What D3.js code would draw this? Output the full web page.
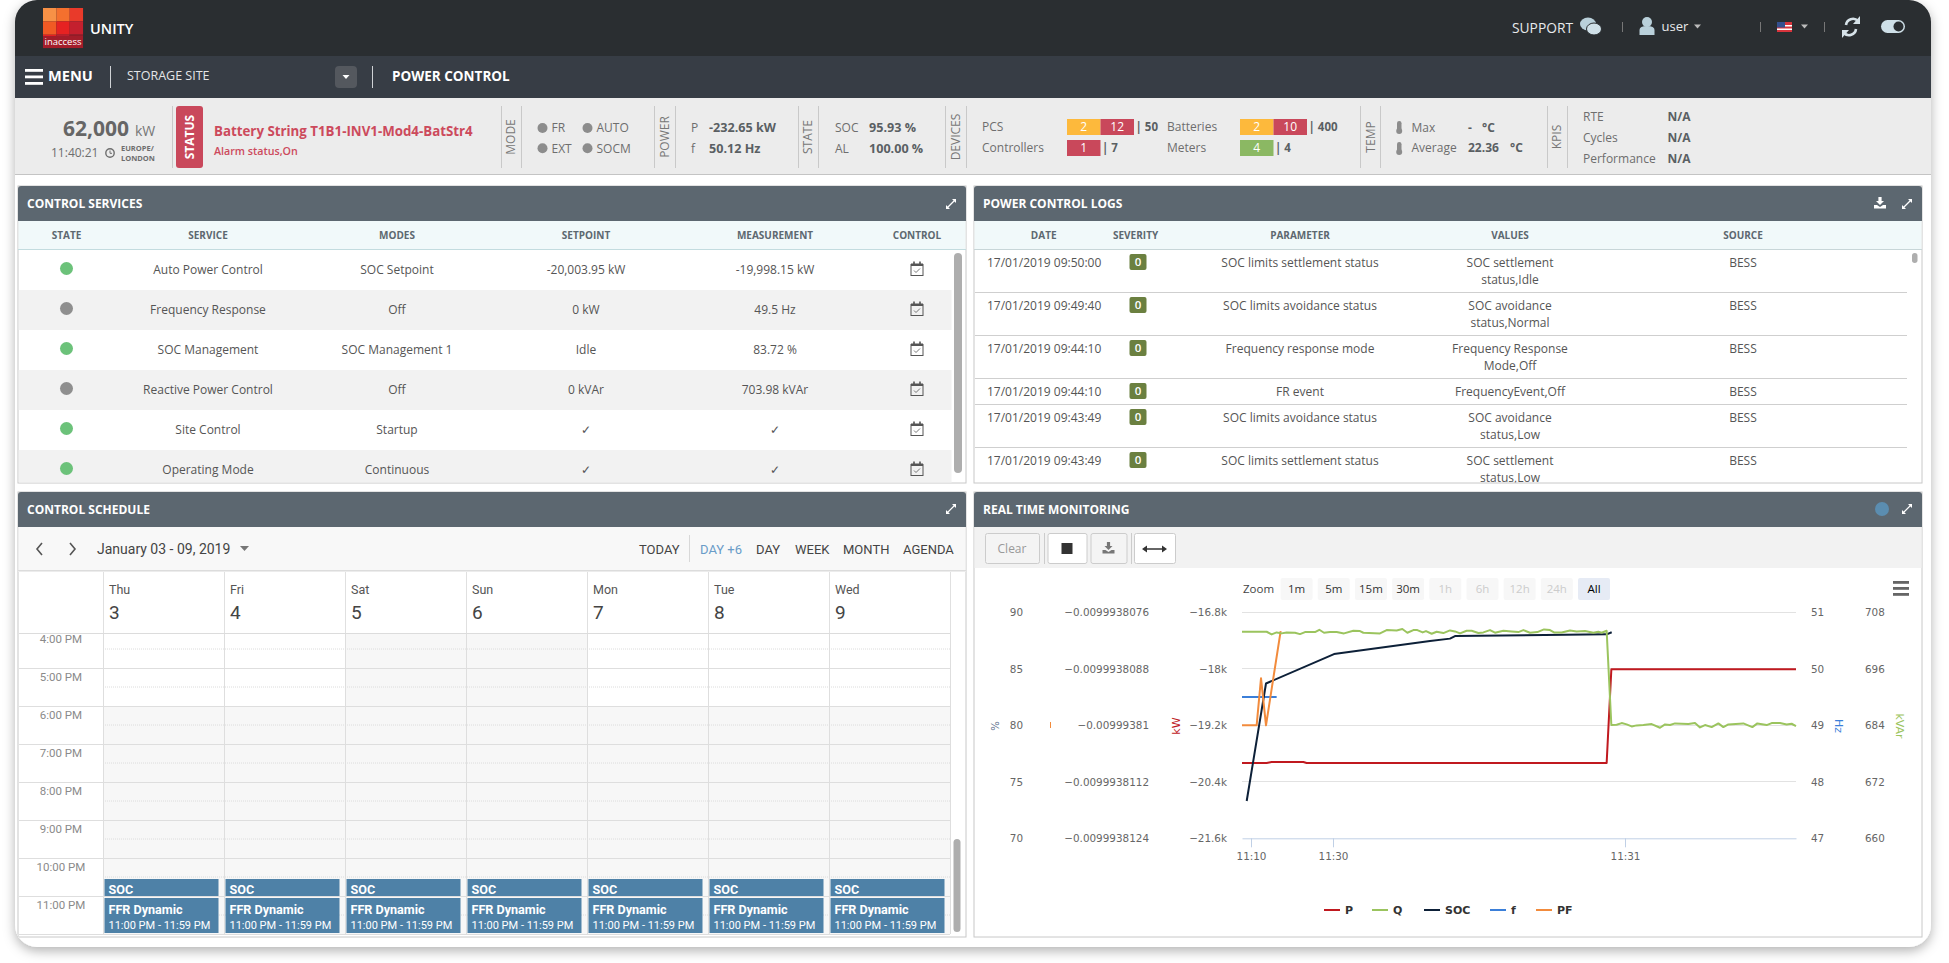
<!DOCTYPE html>
<html>
<head>
<meta charset="utf-8">
<title>Unity - Power Control</title>
<script src="https://cdn.jsdelivr.net/npm/d3@7"></script>
<style>
    html, body { margin: 0; padding: 0; background: #fff; overflow: hidden; }
    svg { display: block; font-family: "Open Sans", sans-serif; }
    .cal text { font-family: Roboto, sans-serif; }
    .hc text { font-family: "DejaVu Sans", sans-serif; }
    .hc .axis text { font-size: 10.4px; fill: #666; font-family: "DejaVu Sans", sans-serif; }
</style>
</head>
<body>
<svg id="page" width="1949" height="963"></svg>
<script>
// ---- status strip ----
const modeLabels = ["FR", "AUTO", "EXT", "SOCM"];
const powerRows = [["P", "-232.65 kW"], ["f", "50.12 Hz"]];
const stateRows = [["SOC", "95.93 %"], ["AL", "100.00 %"]];
const deviceCounts = [
    {name: "PCS", parts: [[2, "warn"], [12, "bad"]], total: "| 50"},
    {name: "Controllers", parts: [[1, "bad"]], total: "| 7"},
    {name: "Batteries", parts: [[2, "warn"], [10, "bad"]], total: "| 400"},
    {name: "Meters", parts: [[4, "ok"]], total: "| 4"}
];
const kpiRows = [["RTE", "N/A"], ["Cycles", "N/A"], ["Performance", "N/A"]];

// ---- control services table ----
const serviceColumns = ["STATE", "SERVICE", "MODES", "SETPOINT", "MEASUREMENT", "CONTROL"];
const serviceStates = ["on", "off", "on", "off", "on", "on"];
const serviceNames = ["Auto Power Control", "Frequency Response", "SOC Management", "Reactive Power Control", "Site Control", "Operating Mode"];
const serviceModes = ["SOC Setpoint", "Off", "SOC Management 1", "Off", "Startup", "Continuous"];
const serviceSetpoints = ["-20,003.95 kW", "0 kW", "Idle", "0 kVAr", "✓", "✓"];
const serviceMeasures = ["-19,998.15 kW", "49.5 Hz", "83.72 %", "703.98 kVAr", "✓", "✓"];

// ---- logs table ----
const logColumns = ["DATE", "SEVERITY", "PARAMETER", "VALUES", "SOURCE"];
const logDates = ["17/01/2019 09:50:00", "17/01/2019 09:49:40", "17/01/2019 09:44:10", "17/01/2019 09:44:10", "17/01/2019 09:43:49", "17/01/2019 09:43:49"];
const logParams = ["SOC limits settlement status", "SOC limits avoidance status", "Frequency response mode", "FR event", "SOC limits avoidance status", "SOC limits settlement status"];
const logValues = [["SOC settlement", "status,Idle"], ["SOC avoidance", "status,Normal"], ["Frequency Response", "Mode,Off"], ["FrequencyEvent,Off"], ["SOC avoidance", "status,Low"], ["SOC settlement", "status,Low"]];

// ---- calendar ----
const calDays = ["Thu", "Fri", "Sat", "Sun", "Mon", "Tue", "Wed"];
const calDates = [3, 4, 5, 6, 7, 8, 9];
const calHours = [16, 17, 18, 19, 20, 21, 22, 23];
const calHourLabels = ["4:00 PM", "5:00 PM", "6:00 PM", "7:00 PM", "8:00 PM", "9:00 PM", "10:00 PM", "11:00 PM"];
const calViews = ["TODAY", "DAY +6", "DAY", "WEEK", "MONTH", "AGENDA"];

// ---- monitoring chart. x is the sample number, the stock axis is ordinal ----
const xTickSamples = [1.8, 18.2, 76.6];
const xTickLabels = ["11:10", "11:30", "11:31"];
const socTicks = [70, 75, 80, 85, 90];
const pfTicks = [-0.0099938124, -0.0099938112, -0.00999381, -0.0099938088, -0.0099938076];
const kwTicks = [-21600, -20400, -19200, -18000, -16800];
const hzTicks = [47, 48, 49, 50, 51];
const kvarTicks = [660, 672, 684, 696, 708];

const pSamples = [0, 4.93, 5.93, 12.27, 12.93, 72.93, 73.87, 110.8];
const pValues = [-20000, -20000, -19980, -19980, -20000, -20000, -18010, -18010];
const socSamples = [0.94, 4.8, 18.4, 37.6, 41.6, 42.6, 72.94, 73.94];
const socValues = [73.3, 83.7, 86.3, 87.46, 87.67, 87.9, 88.05, 88.23];
const fSamples = [0, 3, 6.93];
const fValues = [49.5, 49.5, 49.5];
const pfSamples = [0, 2.93, 3.8, 4.8, 7.73];
const pfValues = [-0.00999381, -0.00999381, -0.009993809, -0.00999381, -0.009993808];
const qSamples = [0, 4.93, 5.93, 6.93, 7.93, 8.93, 10.6, 11.6, 12.6, 14.6, 15.47, 16.4, 17.6, 18.93, 20.4, 22.27, 23.6, 24.27, 27.6, 28.93, 30.93, 32.07, 33.07, 34.27, 35.07, 36.13, 36.8, 37.93, 38.93, 40.27, 41.6, 42.6, 43.6, 44.93, 45.93, 47.27, 48.27, 49.6, 50.6, 52.27, 53.93, 55.27, 56.27, 57.6, 59.07, 60.4, 61.6, 62.4, 63.93, 65.6, 66.93, 68.6, 70.27, 71.27, 71.93, 72.93, 73.87, 74.93, 75.93, 76.93, 77.93, 78.93, 80.27, 81.93, 83.6, 84.6, 85.6, 86.6, 89.27, 90.6, 91.6, 92.6, 93.93, 95.27, 96.27, 97.27, 100.27, 102.07, 103.07, 104.93, 105.93, 107.6, 108.93, 109.93, 110.8];
const qValues = [703.87, 703.87, 703.3, 703.73, 703.52, 703.73, 703.66, 703.37, 703.8, 703.8, 704.29, 703.66, 703.8, 703.8, 703.52, 704.08, 704.01, 703.66, 703.52, 704.22, 704.15, 704.44, 703.66, 704.22, 704.22, 703.73, 704.01, 703.45, 703.87, 703.59, 704.15, 703.94, 703.52, 704.08, 704.08, 703.59, 703.73, 704.22, 703.66, 704.08, 703.94, 703.8, 704.22, 703.66, 703.8, 704.37, 704.22, 703.73, 703.73, 704.15, 703.94, 704.01, 703.66, 703.87, 703.66, 704.08, 684.05, 684.12, 684.47, 684.19, 683.76, 683.98, 684.05, 684.26, 683.48, 684.19, 684.05, 684.4, 684.26, 684.47, 683.55, 684.05, 683.62, 684.4, 683.62, 684.19, 684.4, 683.62, 684.4, 684.05, 684.47, 684.47, 684.19, 684.33, 683.84];
const legendNames = ["P", "Q", "SOC", "f", "PF"];
const rangeButtons = ["1m", "5m", "15m", "30m", "1h", "6h", "12h", "24h", "All"];
const rangeDisabled = ["1h", "6h", "12h", "24h"];

const svg = d3.select("#page");

// little helper so that the layout below stays readable
function label(parent, x, y, s, size, fill, weight, anchor) {
    return parent.append("text")
        .attr("x", x).attr("y", y).attr("dy", ".35em")
        .attr("font-size", size).attr("fill", fill)
        .attr("font-weight", weight || 400)
        .attr("text-anchor", anchor || "start")
        .text(s);
}

function vlabel(parent, x, y, s, size, fill, weight, rot) {
    return parent.append("text")
        .attr("transform", "translate(" + x + "," + y + ") rotate(" + (rot || -90) + ")")
        .attr("dy", ".35em").attr("text-anchor", "middle")
        .attr("font-size", size).attr("fill", fill)
        .attr("font-weight", weight || 400)
        .text(s);
}

function rect(parent, x, y, w, h, fill, rx) {
    return parent.append("rect")
        .attr("x", x).attr("y", y).attr("width", w).attr("height", h)
        .attr("fill", fill).attr("rx", rx || 0);
}

function hline(parent, x1, x2, y, color) {
    return parent.append("line").attr("x1", x1).attr("x2", x2).attr("y1", y).attr("y2", y)
        .attr("stroke", color).attr("stroke-width", 1).attr("shape-rendering", "crispEdges");
}

function vline(parent, x, y1, y2, color) {
    return parent.append("line").attr("x1", x).attr("x2", x).attr("y1", y1).attr("y2", y2)
        .attr("stroke", color).attr("stroke-width", 1).attr("shape-rendering", "crispEdges");
}

// ---- window with its shadow ----
const defs = svg.append("defs");
const shadow = defs.append("filter").attr("id", "shadow")
    .attr("x", "-3%").attr("y", "-3%").attr("width", "106%").attr("height", "106%");
shadow.append("feDropShadow").attr("dx", 0).attr("dy", 4).attr("stdDeviation", 6)
    .attr("flood-color", "#000").attr("flood-opacity", 0.3);
defs.append("clipPath").attr("id", "winclip").append("rect")
    .attr("x", 15).attr("y", 0).attr("width", 1916).attr("height", 947).attr("rx", 22);

svg.append("rect").attr("x", 15).attr("y", 0).attr("width", 1916).attr("height", 947)
    .attr("rx", 22).attr("fill", "#fff").attr("filter", "url(#shadow)");
const win = svg.append("g").attr("clip-path", "url(#winclip)");

// ---- top bars ----
rect(win, 15, 0, 1916, 56, "#2a2e31");
rect(win, 15, 56, 1916, 42, "#373d45");

// logo, 3x3 squares going from orange to dark red
const logoColors = ["#f79146", "#f4702e", "#e93a2a", "#f05a24", "#e62222", "#c4202e", "#e62022", "#b81f2f", "#921b27"];
win.selectAll("rect.logo").data(logoColors).enter().append("rect")
    .attr("class", "logo")
    .attr("x", (d, i) => 43 + (i % 3) * 13.33)
    .attr("y", (d, i) => 8 + Math.floor(i / 3) * 13.33)
    .attr("width", 13.4).attr("height", 13.4)
    .attr("fill", d => d);
rect(win, 43, 36, 40, 12, "#a31d2a");
label(win, 63, 42, "inaccess", 9.5, "#fff", 400, "middle");
label(win, 90, 29, "UNITY", 14.5, "#fff", 600);

label(win, 1512, 28, "SUPPORT", 13.8, "#e8eaec");
// speech bubbles
win.append("ellipse").attr("cx", 1588).attr("cy", 24).attr("rx", 8).attr("ry", 6.5).attr("fill", "#b9d0da");
win.append("ellipse").attr("cx", 1594).attr("cy", 29).attr("rx", 7.5).attr("ry", 6).attr("fill", "#cfe0e8").attr("stroke", "#2a2e31");
vline(win, 1622, 22, 32, "#777");
// user
win.append("circle").attr("cx", 1647).attr("cy", 22).attr("r", 5).attr("fill", "#b9d0da");
win.append("path").attr("d", "M1639.5 35 v-5 q0 -4 7.5 -4 q7.5 0 7.5 4 v5 z").attr("fill", "#b9d0da");
label(win, 1661.5, 26, "user", 13, "#e8eaec");
win.append("path").attr("d", "M1694 24.5 h7 l-3.5 4 z").attr("fill", "#bbb");
vline(win, 1760, 22, 32, "#777");
// flag
rect(win, 1777, 22, 15, 10, "#d8343c");
rect(win, 1777, 25, 15, 1.5, "#fff");
rect(win, 1777, 28.5, 15, 1.5, "#fff");
rect(win, 1777, 22, 8, 5.5, "#34508f");
win.append("path").attr("d", "M1801 24.5 h7 l-3.5 4 z").attr("fill", "#bbb");
vline(win, 1824, 22, 32, "#777");
// refresh
win.append("path").attr("d", "M1846 25 a7 7 0 0 1 12 -4 M1856 29 a7 7 0 0 1 -12 4")
    .attr("fill", "none").attr("stroke", "#d6e2e8").attr("stroke-width", 2.6);
win.append("path").attr("d", "M1860 16 v8 h-7 z M1842 38 v-8 h7 z").attr("fill", "#d6e2e8");
// dark mode toggle
rect(win, 1881, 20, 24, 13, "#cfe0e8", 6.5);
win.append("circle").attr("cx", 1898.5).attr("cy", 26.5).attr("r", 5).attr("fill", "#2a2e31");

// nav
[69, 75.5, 82].forEach(y => rect(win, 25, y, 18, 2.8, "#fff"));
label(win, 48, 76, "MENU", 14.6, "#fff", 700);
vline(win, 110, 66, 88, "#cfd2d5");
label(win, 127, 76, "STORAGE SITE", 12.5, "#e4e6e8");
rect(win, 335, 66, 22, 22, "#54585e", 4);
win.append("path").attr("d", "M342.5 75 h7 l-3.5 4 z").attr("fill", "#fff");
vline(win, 372, 66, 88, "#cfd2d5");
label(win, 392, 76, "POWER CONTROL", 13.5, "#fff", 700);

// ---- status strip ----
rect(win, 15, 98, 1916, 76, "#ececec");
hline(win, 15, 1931, 174, "#c4c4c4");
const strip = win.append("g");
const stripGrey = "#6e6e6e";
const stripDark = "#5a5f63";
label(strip, 129, 129, "62,000", 21, "#666", 700, "end");
label(strip, 135, 131, "kW", 14, "#777");
label(strip, 51, 153, "11:40:21", 12, stripGrey);
strip.append("circle").attr("cx", 110).attr("cy", 153).attr("r", 4.2).attr("fill", "none").attr("stroke", stripGrey).attr("stroke-width", 1.4);
strip.append("path").attr("d", "M110 150.5 v2.8 h2").attr("fill", "none").attr("stroke", stripGrey);
label(strip, 121, 148, "EUROPE/", 7.5, stripGrey, 700);
label(strip, 121, 158, "LONDON", 7.5, stripGrey, 700);

[172, 501, 521.5, 654, 675, 798, 818, 945, 966, 1360, 1380, 1547, 1567].forEach(x => vline(strip, x, 106, 168, "#c9c9c9"));
rect(strip, 176, 106, 27, 62, "#c9485b", 3);
vlabel(strip, 190, 137, "STATUS", 12, "#fff", 700);
label(strip, 214, 131, "Battery String T1B1-INV1-Mod4-BatStr4", 13.3, "#cc4a5c", 700);
label(strip, 214, 151, "Alarm status,On", 10.7, "#cc4a5c", 600);

vlabel(strip, 511, 137, "MODE", 12, "#777");
vlabel(strip, 665, 137, "POWER", 12, "#777");
vlabel(strip, 808, 137, "STATE", 12, "#777");
vlabel(strip, 956, 137, "DEVICES", 12, "#777");
vlabel(strip, 1370.5, 137, "TEMP", 12, "#777");
vlabel(strip, 1557, 137, "KPIS", 12, "#777");

const modeX = d3.scaleOrdinal().domain([0, 1]).range([542.5, 587.5]);
modeLabels.forEach((m, i) => {
    const col = i % 2, y = i < 2 ? 128 : 148.3;
    strip.append("circle").attr("cx", modeX(col)).attr("cy", y).attr("r", 5).attr("fill", "#8c8c8c");
    label(strip, modeX(col) + 9, y, m, 12, stripGrey);
});
powerRows.forEach((r, i) => {
    label(strip, 691, 128 + i * 20.3, r[0], 12, stripGrey);
    label(strip, 709, 128 + i * 20.3, r[1], 12.6, stripDark, 700);
});
stateRows.forEach((r, i) => {
    label(strip, 835, 128 + i * 20.3, r[0], 12, stripGrey);
    label(strip, 869, 128 + i * 20.3, r[1], 12.6, stripDark, 700);
});
const badgeColor = {warn: "#fdb93c", bad: "#c9485b", ok: "#8bb863"};
deviceCounts.forEach((d, i) => {
    const col = i < 2 ? 0 : 1, row = i % 2;
    const y = 127 + row * 21;
    label(strip, col ? 1167 : 982, y, d.name, 12, stripGrey);
    let bx = col ? 1240 : 1067;
    d.parts.forEach(p => {
        rect(strip, bx, y - 8, 33.5, 16, badgeColor[p[1]]);
        label(strip, bx + 16.7, y, p[0], 12, "#fff", 400, "middle");
        bx += 33.5;
    });
    label(strip, bx + 1.5, y, d.total, 11.5, stripDark, 700);
});
// thermometers
[127, 148].forEach(y => {
    rect(strip, 1397, y - 6, 4.5, 10, "#8c8c8c", 2.2);
    strip.append("circle").attr("cx", 1399.2).attr("cy", y + 4).attr("r", 3).attr("fill", "#8c8c8c");
});
label(strip, 1411.5, 127.5, "Max", 12, stripGrey);
label(strip, 1468, 127.5, "-", 12, stripDark, 700);
label(strip, 1482, 127.5, "°C", 12, stripDark, 700);
label(strip, 1411.5, 148, "Average", 12, stripGrey);
label(strip, 1468, 148, "22.36", 12, stripDark, 700);
label(strip, 1510, 148, "°C", 12, stripDark, 700);
kpiRows.forEach((r, i) => {
    label(strip, 1583, 117 + i * 20.7, r[0], 12, stripGrey);
    label(strip, 1667.5, 117 + i * 20.7, r[1], 12, stripDark, 700);
});

// ---- panels ----
function panel(x, y, w, h, title) {
    const g = win.append("g");
    rect(g, x, y, w, h, "#fff").attr("stroke", "#c8c8c8");
    g.append("path")
        .attr("d", "M" + x + " " + (y + 35) + " v-32 q0 -3 3 -3 h" + (w - 6) + " q3 0 3 3 v32 z")
        .attr("fill", "#5c6770");
    label(g, x + 9, y + 18, title, 12, "#fff", 700);
    return g;
}

function expandIcon(g, cx, cy) {
    g.append("path")
        .attr("d", "M" + (cx - 4) + " " + (cy + 4) + " L" + (cx + 4) + " " + (cy - 4))
        .attr("stroke", "#fff").attr("stroke-width", 1.2);
    g.append("path").attr("fill", "#fff")
        .attr("d", "M" + (cx + 5) + " " + (cy - 5) + " h-4 l4 4 z M" + (cx - 5) + " " + (cy + 5) + " h4 l-4 -4 z");
}

function downloadIcon(g, cx, cy, color) {
    g.append("path").attr("fill", color)
        .attr("d", "M" + (cx - 1.6) + " " + (cy - 6) + " h3.2 v4 h2.4 l-4 4 l-4 -4 h2.4 z M" + (cx - 6) + " " + (cy + 2) + " h3 l3 2 l3 -2 h3 v3.5 h-12 z");
}

// control services
const p1 = panel(18, 186, 948, 297, "CONTROL SERVICES");
expandIcon(p1, 951, 204);
rect(p1, 18.5, 221, 947, 28, "#f1f9fa");
hline(p1, 18, 966, 249.5, "#c3dcdf");
const svcX = d3.scaleOrdinal().domain(serviceColumns).range([66.5, 208, 397, 586, 775, 917]);
const svcRow = d3.scaleBand().domain(d3.range(serviceNames.length)).range([250, 490]);
serviceColumns.forEach(c => label(p1, svcX(c), 235, c, 10, "#5d6870", 700, "middle"));
defs.append("clipPath").attr("id", "p1clip").append("rect").attr("x", 18.5).attr("y", 250).attr("width", 947).attr("height", 232.5);
const p1rows = p1.append("g").attr("clip-path", "url(#p1clip)");
serviceNames.forEach((name, i) => {
    const y = svcRow(i), cy = y + svcRow.bandwidth() / 2 - 0.5;
    if (i % 2) rect(p1rows, 18.5, y, 933, svcRow.bandwidth(), "#f2f2f2");
    p1rows.append("circle").attr("cx", svcX("STATE")).attr("cy", cy - 1).attr("r", 6.5)
        .attr("fill", serviceStates[i] === "on" ? "#6cc27a" : "#8f8f8f");
    label(p1rows, svcX("SERVICE"), cy, name, 12, "#555", 400, "middle");
    label(p1rows, svcX("MODES"), cy, serviceModes[i], 12, "#555", 400, "middle");
    label(p1rows, svcX("SETPOINT"), cy, serviceSetpoints[i], 12, "#555", 400, "middle");
    label(p1rows, svcX("MEASUREMENT"), cy, serviceMeasures[i], 12, "#555", 400, "middle");
    // calendar icon
    const ix = svcX("CONTROL");
    p1rows.append("rect").attr("x", ix - 6).attr("y", cy - 5).attr("width", 12).attr("height", 11)
        .attr("fill", "none").attr("stroke", "#555").attr("stroke-width", 1);
    rect(p1rows, ix - 6, cy - 6, 12, 2.5, "#555");
    [-3, 3].forEach(dx => rect(p1rows, ix + dx - 0.8, cy - 8, 1.6, 3, "#555"));
    p1rows.append("path").attr("d", "M" + (ix - 3) + " " + (cy + 1) + " l2 2 l4 -4")
        .attr("fill", "none").attr("stroke", "#555").attr("stroke-width", 0.8);
});
rect(p1, 954, 253, 8, 220, "#aeaeae", 4);

// logs
const p2 = panel(974, 186, 948, 297, "POWER CONTROL LOGS");
downloadIcon(p2, 1880, 203, "#fff");
expandIcon(p2, 1907, 204);
rect(p2, 974.5, 221, 947, 28, "#f1f9fa");
hline(p2, 974, 1922, 249.5, "#c8d6d8");
const logX = d3.scaleOrdinal().domain(logColumns).range([1043.7, 1135.6, 1300, 1510, 1743]);
logColumns.forEach(c => label(p2, logX(c), 235, c, 10, "#5d6870", 700, "middle"));
defs.append("clipPath").attr("id", "p2clip").append("rect").attr("x", 974.5).attr("y", 250).attr("width", 947).attr("height", 232.5);
const p2rows = p2.append("g").attr("clip-path", "url(#p2clip)");
let logY = 250;
logDates.forEach((d, i) => {
    const lines = logValues[i], first = logY + 13;
    label(p2rows, 987, first, d, 12, "#555");
    rect(p2rows, 1129.5, logY + 4, 17, 16, "#6b8040", 2);
    label(p2rows, 1138, logY + 12, "0", 11.5, "#fff", 600, "middle");
    label(p2rows, logX("PARAMETER"), first, logParams[i], 12, "#555", 400, "middle");
    lines.forEach((t, j) => label(p2rows, logX("VALUES"), first + j * 17, t, 12, "#555", 400, "middle"));
    label(p2rows, logX("SOURCE"), first, "BESS", 12, "#555", 400, "middle");
    logY += lines.length * 17 + 9;
    hline(p2rows, 974.5, 1907, logY - 0.5, "#cfcfcf");
});
rect(p2, 1912, 253, 5.5, 10, "#aeaeae", 2.7);

// calendar
const p3 = panel(18, 492, 948, 445, "CONTROL SCHEDULE");
expandIcon(p3, 951, 509);
const cal = p3.append("g").attr("class", "cal");
rect(cal, 18.5, 527, 947, 43, "#f8f8f8");
hline(cal, 18, 966, 570, "#dcdcdc");
hline(cal, 18, 966, 571, "#ececec");
cal.append("path").attr("d", "M42 543 l-5 6 l5 6 M70 543 l5 6 l-5 6")
    .attr("fill", "none").attr("stroke", "#555").attr("stroke-width", 1.6);
label(cal, 97, 549, "January 03 - 09, 2019", 14, "#444");
cal.append("path").attr("d", "M240 546 h9 l-4.5 5 z").attr("fill", "#777");
const viewX = d3.scaleOrdinal().domain(calViews).range([639, 700, 756, 795, 843, 903]);
calViews.forEach(v => label(cal, viewX(v), 549, v, 13, v === "DAY +6" ? "#6a9cc8" : "#444"));
vline(cal, 689, 535, 562, "#d8d8d8");

const dayX = d3.scaleBand().domain(calDays).range([103, 950]);
const hourY = d3.scaleLinear().domain([17, 24]).range([668, 934]);
defs.append("clipPath").attr("id", "calclip").append("rect").attr("x", 18.5).attr("y", 633).attr("width", 947).attr("height", 302);
const grid = cal.append("g").attr("clip-path", "url(#calclip)");
// non-working hours are shaded
calDays.forEach(d => {
    const weekend = d === "Sat" || d === "Sun";
    rect(grid, dayX(d), hourY(weekend ? 16 : 18), dayX.bandwidth(), hourY(24) - hourY(weekend ? 16 : 18), "#f7f7f7");
});
calHours.forEach((h, i) => {
    hline(grid, 18.5, 950, hourY(h), "#dedede");
    grid.append("line").attr("x1", 103).attr("x2", 950).attr("y1", hourY(h + 0.5)).attr("y2", hourY(h + 0.5))
        .attr("stroke", "#dcdcdc").attr("stroke-dasharray", "1 1");
    label(grid, 61, hourY(h) + 9, calHourLabels[i], 11.5, "#8a8a8a", 400, "middle");
});
calDays.forEach(d => vline(grid, Math.round(dayX(d)), 633, 934, "#dedede"));
vline(grid, 950, 633, 934, "#dedede");
hline(grid, 18.5, 950, 934, "#dedede");

// day header
hline(cal, 18.5, 950, 633, "#dcdcdc");
calDays.forEach((d, i) => {
    vline(cal, Math.round(dayX(d)), 572, 633, "#e0e0e0");
    label(cal, dayX(d) + 6, 590, d, 12.5, "#555");
    label(cal, dayX(d) + 6, 612, calDates[i], 19, "#444");
});
vline(cal, 950, 572, 633, "#e0e0e0");

// FFR blocks, the same every day
calDays.forEach(d => {
    const x = dayX(d) + 1.5, w = dayX.bandwidth() - 7;
    rect(cal, x, hourY(22.5) + 2, w, hourY(23) - hourY(22.5) - 2, "#4e81a7");
    label(cal, x + 4, hourY(22.5) + 13, "SOC", 12.6, "#fff", 700);
    rect(cal, x, hourY(23) + 2, w, hourY(24) - hourY(23) - 3, "#4e81a7");
    label(cal, x + 4, hourY(23) + 14, "FFR Dynamic", 12.6, "#fff", 700);
    label(cal, x + 4, hourY(23) + 29, "11:00 PM - 11:59 PM", 11, "#fff");
});
rect(cal, 953.5, 839, 7, 93, "#aeaeae", 3.5);

// ---- real time monitoring ----
const p4 = panel(974, 492, 948, 445, "REAL TIME MONITORING");
p4.append("circle").attr("cx", 1882).attr("cy", 509).attr("r", 7).attr("fill", "#5b8db0");
expandIcon(p4, 1907, 509);
rect(p4, 974.5, 527, 947, 41, "#f2f2f2");
function toolButton(x, w, fill) {
    return p4.append("rect").attr("x", x + 0.5).attr("y", 533.5).attr("width", w).attr("height", 30)
        .attr("rx", 2).attr("fill", fill).attr("stroke", "#ccc");
}
toolButton(985, 54, "#f4f4f4");
label(p4, 1012, 549, "Clear", 12, "#999", 400, "middle");
vline(p4, 1044, 533, 564, "#ccc");
toolButton(1047.5, 39, "#fff");
rect(p4, 1061.5, 543, 11, 11, "#333");
toolButton(1090.5, 36, "#f4f4f4");
downloadIcon(p4, 1108.5, 548, "#777");
vline(p4, 1131, 533, 564, "#ccc");
toolButton(1134, 41, "#fff");
p4.append("path").attr("d", "M1146 549 h17").attr("stroke", "#333").attr("stroke-width", 1.5);
p4.append("path").attr("d", "M1142 549 l5 -3.5 v7 z M1167 549 l-5 -3.5 v7 z").attr("fill", "#333");

const chart = p4.append("g").attr("class", "hc");
label(chart, 1243, 589, "Zoom", 11.5, "#444").attr("font-family", "Open Sans").style("font-family", "Open Sans");
const rangeX = d3.scaleBand().domain(rangeButtons).range([1280.6, 1610]).paddingInner(0.14).paddingOuter(0);
rangeButtons.forEach(b => {
    const off = rangeDisabled.indexOf(b) >= 0, isAll = b === "All";
    rect(chart, rangeX(b), 578, rangeX.bandwidth(), 22, isAll ? "#e6ebf5" : "#f7f7f7", 2);
    label(chart, rangeX(b) + rangeX.bandwidth() / 2, 589, b, 11.5, isAll ? "#000" : (off ? "#ccc" : "#333"), 400, "middle")
        .style("font-family", "Open Sans");
});
[581, 587, 593].forEach(y => rect(chart, 1893, y, 16, 2.8, "#666"));

// scales, all five y axes share the same plot height
const plotTop = 612.3, plotBottom = 838.3, plotLeft = 1242, plotRight = 1796;
const x = d3.scaleLinear().domain([0, 110.8]).range([plotLeft, plotRight]);
const ySoc = d3.scaleLinear().domain([70, 90]).range([plotBottom, plotTop]);
const yPf = d3.scaleLinear().domain([-0.0099938124, -0.0099938076]).range([plotBottom, plotTop]);
const yKw = d3.scaleLinear().domain([-21600, -16800]).range([plotBottom, plotTop]);
const yHz = d3.scaleLinear().domain([47, 51]).range([plotBottom, plotTop]);
const yKvar = d3.scaleLinear().domain([660, 708]).range([plotBottom, plotTop]);

kwTicks.slice(1).forEach(t => hline(chart, plotLeft, plotRight, yKw(t), "#e2e2e2"));

function yAxis(axis, pos, scale, ticks, fmt) {
    const g = chart.append("g").attr("class", "axis")
        .attr("transform", "translate(" + pos + ",0)")
        .call(axis(scale).tickValues(ticks).tickSize(0).tickPadding(0).tickFormat(fmt));
    g.select(".domain").remove();
    g.selectAll("text").attr("dy", ".35em");
    return g;
}
yAxis(d3.axisLeft, 1023, ySoc, socTicks, d => d);
yAxis(d3.axisLeft, 1149, yPf, pfTicks, d => String(d).replace("-", "−"));
yAxis(d3.axisLeft, 1227, yKw, kwTicks, d3.format("~s"));
yAxis(d3.axisRight, 1811, yHz, hzTicks, d => d);
yAxis(d3.axisRight, 1865, yKvar, kvarTicks, d => d);

vlabel(chart, 995, 726, "%", 10, "#5a6f8c");
chart.append("rect").attr("x", 1050).attr("y", 722).attr("width", 1).attr("height", 6).attr("fill", "#f28b3c");
vlabel(chart, 1176, 726, "kW", 11, "#c0191f");
vlabel(chart, 1839, 726, "Hz", 11, "#3b7fd9", 400, 90);
vlabel(chart, 1900, 726, "kVAr", 11, "#9bc45e", 400, 90);

const xAxis = chart.append("g").attr("class", "axis")
    .attr("transform", "translate(0," + plotBottom + ")")
    .call(d3.axisBottom(x).tickValues(xTickSamples).tickSizeInner(9).tickSizeOuter(0).tickPadding(5)
        .tickFormat((d, i) => xTickLabels[i]));
xAxis.select(".domain").attr("stroke", "#c0d0e6");
xAxis.selectAll("line").attr("stroke", "#c0d0e6");

const colors = {P: "#c0191f", Q: "#9bc45e", SOC: "#0d2038", f: "#3b7fd9", PF: "#f28b3c"};
function series(xs, ys, yScale, color) {
    const line = d3.line().x(d => x(d[0])).y(d => yScale(d[1]));
    chart.append("path").datum(d3.zip(xs, ys))
        .attr("fill", "none").attr("stroke", color).attr("stroke-width", 2)
        .attr("stroke-linejoin", "round")
        .attr("d", line);
}
series(fSamples, fValues, yHz, colors.f);
series(pSamples, pValues, yKw, colors.P);
series(socSamples, socValues, ySoc, colors.SOC);
series(pfSamples, pfValues, yPf, colors.PF);
series(qSamples, qValues, yKvar, colors.Q);

// legend
const legendX = d3.scaleOrdinal().domain(legendNames).range([1324, 1372, 1424, 1490, 1536]);
legendNames.forEach(n => {
    chart.append("line").attr("x1", legendX(n)).attr("x2", legendX(n) + 16).attr("y1", 910).attr("y2", 910)
        .attr("stroke", colors[n]).attr("stroke-width", 2);
    label(chart, legendX(n) + 21, 910, n, 11, "#333", 700);
});
</script>
</body>
</html>
